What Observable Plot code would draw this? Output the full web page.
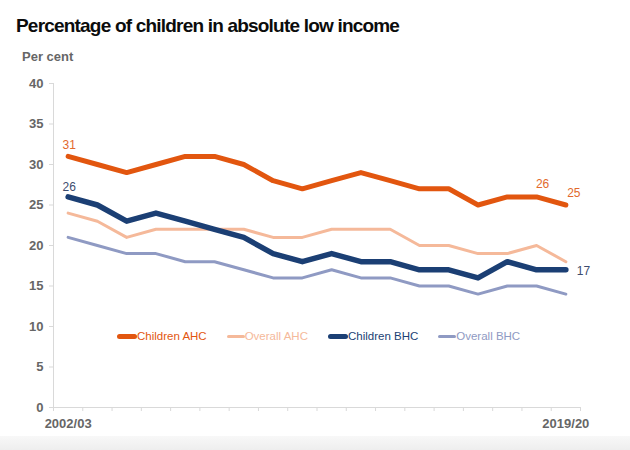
<!DOCTYPE html>
<html>
<head>
<meta charset="utf-8">
<script src="https://cdn.jsdelivr.net/npm/d3@7"></script>
<script src="https://cdn.jsdelivr.net/npm/@observablehq/plot@0.6"></script>
<style>
  html, body { margin: 0; padding: 0; background: #fff; }
  #wrap { position: relative; width: 630px; height: 450px; overflow: hidden; background: #fff; font-family: "Liberation Sans", Arial, sans-serif; }
  #title { height: 29px; padding: 16px 0 0 16px; font-size: 19px; line-height: 19px; font-weight: bold; color: #0b0c0c; letter-spacing: -0.8px; white-space: nowrap; }
  #unit { position: absolute; left: 22px; top: 50px; font-size: 13px; line-height: 13px; font-weight: bold; color: #666; }
  #legend { position: absolute; left: 117px; top: 330px; height: 12px; display: flex; align-items: center; gap: 20px; font-size: 11.5px; line-height: 12px; }
  .item { display: flex; align-items: center; }
  .sw { border-radius: 3px; }
  #chart svg { display: block; }
  #shade { position: absolute; left: 0; top: 436px; width: 630px; height: 14px; background: linear-gradient(to bottom, #f8f8f8, #eeeeee); }
</style>
</head>
<body>
<div id="wrap">
  <div id="title">Percentage of children in absolute low income</div>
  <div id="chart"></div>
  <div id="unit">Per cent</div>
  <div id="legend"></div>
  <div id="shade"></div>
</div>
<script>
// ---- data ----
const years = ["2002/03","2003/04","2004/05","2005/06","2006/07","2007/08","2008/09","2009/10","2010/11",
               "2011/12","2012/13","2013/14","2014/15","2015/16","2016/17","2017/18","2018/19","2019/20"];
const childrenAHC = [31,30,29,30,31,31,30,28,27,28,29,28,27,27,25,26,26,25];
const overallAHC  = [24,23,21,22,22,22,22,21,21,22,22,22,20,20,19,19,20,18];
const childrenBHC = [26,25,23,24,23,22,21,19,18,19,18,18,17,17,16,18,17,17];
const overallBHC  = [21,20,19,19,18,18,17,16,16,17,16,16,15,15,14,15,15,14];
const seriesNames = ["Children AHC","Overall AHC","Children BHC","Overall BHC"];
const yTicks = [0,5,10,15,20,25,30,35,40];
const xLabelYears = ["2002/03","2019/20"];

// ---- styles ----
const seriesValues = [childrenAHC, overallAHC, childrenBHC, overallBHC];
const seriesColors = ["#E2560F","#F5B99A","#1B3F74","#8F9AC3"];
const seriesWidths = [5, 3, 5.5, 3];
const orangeLabel = "#E2692C";
const blueLabel = "#3D4C6E";
const axisGrey = "#d9d9d9";
const textGrey = "#666666";

const idx = years.map((_, i) => i);
const edges = d3.range(-0.5, years.length, 1);
const lastI = years.length - 1;

const lineMarks = [3, 1, 2, 0].map(s =>
  Plot.line(idx, {
    x: i => i, y: i => seriesValues[s][i],
    stroke: seriesColors[s], strokeWidth: seriesWidths[s],
    strokeLinejoin: "round", strokeLinecap: "round"
  })
);

const chart = Plot.plot({
  width: 630,
  height: 405,
  marginTop: 38,
  marginBottom: 43,
  marginLeft: 53,
  marginRight: 50,
  x: { type: "linear", domain: [-0.5, lastI + 0.5] },
  y: { domain: [0, 40] },
  style: { fontFamily: "'Liberation Sans', Arial, sans-serif", fontSize: "13px", background: "transparent", overflow: "visible" },
  marks: [
    Plot.ruleY([0], { stroke: axisGrey }),
    Plot.ruleX([-0.5], { stroke: axisGrey }),
    Plot.axisX(edges, { tickSize: 4, stroke: axisGrey, tickFormat: () => "", label: null }),
    Plot.axisX(xLabelYears.map(y => years.indexOf(y)), { tickSize: 0, tickPadding: 11, tickFormat: i => years[i], fill: textGrey, fontWeight: "bold", label: null }),
    Plot.axisY(yTicks, { tickSize: 4, tickPadding: 6, stroke: axisGrey, fill: textGrey, fontWeight: "bold", label: null }),
    ...lineMarks,
    Plot.text([0], { x: i => i, y: i => childrenAHC[i], text: i => String(childrenAHC[i]), dx: 1, dy: -11, fill: orangeLabel, fontSize: 12 }),
    Plot.text([lastI - 1], { x: i => i, y: i => childrenAHC[i], text: i => String(childrenAHC[i]), dx: 6, dy: -13, fill: orangeLabel, fontSize: 12 }),
    Plot.text([lastI], { x: i => i, y: i => childrenAHC[i], text: i => String(childrenAHC[i]), dx: 8, dy: -12, fill: orangeLabel, fontSize: 12 }),
    Plot.text([0], { x: i => i, y: i => childrenBHC[i], text: i => String(childrenBHC[i]), dx: 1, dy: -10, fill: blueLabel, fontSize: 12 }),
    Plot.text([lastI], { x: i => i, y: i => childrenBHC[i], text: i => String(childrenBHC[i]), dx: 11, dy: 1, textAnchor: "start", fill: blueLabel, fontSize: 12 })
  ]
});
document.getElementById("chart").appendChild(chart);

// ---- legend ----
const legend = document.getElementById("legend");
seriesNames.forEach((name, s) => {
  const item = document.createElement("div");
  item.className = "item";
  const sw = document.createElement("div");
  sw.className = "sw";
  const thick = s % 2 === 0;
  sw.style.width = (thick ? 20 : 18) + "px";
  sw.style.height = (thick ? 5 : 3) + "px";
  sw.style.background = seriesColors[s];
  const tx = document.createElement("span");
  tx.textContent = name;
  tx.style.color = seriesColors[s];
  item.appendChild(sw);
  item.appendChild(tx);
  legend.appendChild(item);
});
</script>
</body>
</html>
